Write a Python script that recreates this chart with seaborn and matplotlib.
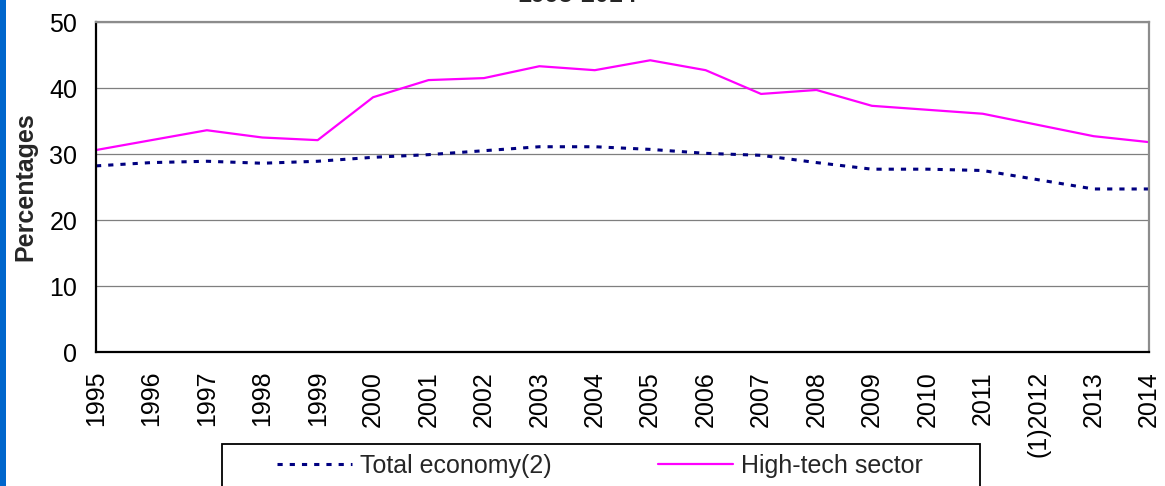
import matplotlib
matplotlib.use("Agg")
import matplotlib.pyplot as plt
from matplotlib.patches import Rectangle
import seaborn as sns
import pandas as pd

# Share of employment, percentages, 1995-2014
years = list(range(1995, 2015))
year_labels = ["1995", "1996", "1997", "1998", "1999", "2000", "2001", "2002",
               "2003", "2004", "2005", "2006", "2007", "2008", "2009", "2010",
               "2011", "(1)2012", "2013", "2014"]
total_economy = [28.2, 28.7, 28.9, 28.6, 28.9, 29.5, 29.9, 30.5, 31.1, 31.1,
                 30.7, 30.1, 29.8, 28.7, 27.7, 27.7, 27.5, 26.1, 24.7, 24.7]
high_tech = [30.6, 32.1, 33.6, 32.5, 32.1, 38.6, 41.2, 41.5, 43.3, 42.7,
             44.2, 42.7, 39.1, 39.7, 37.3, 36.7, 36.1, 34.4, 32.7, 31.8]
y_ticks = [0, 10, 20, 30, 40, 50]
series_names = ["Total economy(2)", "High-tech sector"]
title_text = "1995-2014"
y_title = "Percentages"

sns.set_style("white")
plt.rcParams["font.family"] = ["Liberation Sans", "DejaVu Sans"]

W, H = 1165, 486
fig = plt.figure(figsize=(W / 100, H / 100), dpi=100)
ax = fig.add_axes([96 / W, 1 - 352 / H, (1149 - 96) / W, (352 - 22) / H])

df = pd.DataFrame({"year": years, "total": total_economy, "hitech": high_tech})

sns.lineplot(data=df, x="year", y="total", ax=ax, color="#000080",
             linewidth=2.2, linestyle=(0, (1.7, 2.3)), label=series_names[0])
sns.lineplot(data=df, x="year", y="hitech", ax=ax, color="#FF00FF",
             linewidth=1.6, label=series_names[1])

ax.set_xlim(years[0], years[-1])
ax.set_ylim(y_ticks[0], y_ticks[-1])
ax.set_yticks(y_ticks)
ax.set_xticks(years)
ax.set_xticklabels(year_labels, rotation=90, va="top", ha="center")
ax.set_xlabel("")
ax.set_ylabel(y_title, fontsize=18, fontweight="bold")
ax.yaxis.set_label_coords((37 - 96) / (1149 - 96), 0.5)

ax.yaxis.grid(True, color="#7f7f7f", linewidth=0.9)
ax.xaxis.grid(False)
ax.set_axisbelow(True)

for side in ["left", "bottom"]:
    ax.spines[side].set_color("black")
    ax.spines[side].set_linewidth(1.6)
for side in ["top", "right"]:
    ax.spines[side].set_color("#8c8c8c")
    ax.spines[side].set_linewidth(1.6)

ax.tick_params(axis="both", direction="out", length=6.5, width=1.2,
               color="black", labelsize=18, labelcolor="black")
ax.tick_params(axis="y", pad=7)
ax.tick_params(axis="x", pad=7)

ax.get_legend().remove()
handles, labels = ax.get_legend_handles_labels()
fig.legend(handles, labels, loc="center left",
           bbox_to_anchor=(277 / W, 1 - 466 / H), ncol=2, frameon=False,
           fontsize=18, handlelength=3.0, handletextpad=0.32,
           columnspacing=4.24, borderpad=0, borderaxespad=0)

# Legend frame, open at the bottom edge of the figure
fig.patches.append(Rectangle((222 / W, -0.2), (980 - 222) / W, 0.2 + 1 - 444 / H,
                             transform=fig.transFigure, fill=False,
                             edgecolor="black", linewidth=1.3))

# Blue band along the left edge
fig.patches.append(Rectangle((0, 0), 6 / W, 1, transform=fig.transFigure,
                             facecolor="#0066CC", edgecolor="none"))

fig.text(0.4955, 1 - 2.5 / H, title_text, ha="center", va="baseline",
         fontsize=18, fontweight="bold")

fig.savefig("out.png", dpi=100)
